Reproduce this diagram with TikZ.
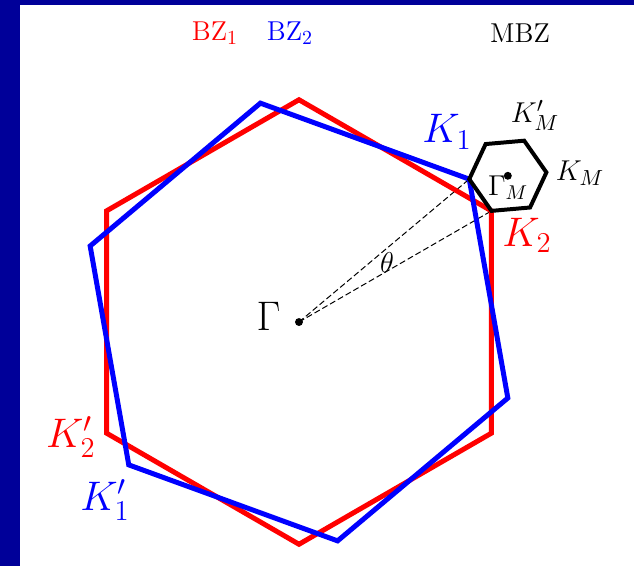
\documentclass[tikz,border=0pt]{standalone}
\usetikzlibrary{calc}
\definecolor{framebg}{RGB}{0,0,153}

\begin{document}
\begin{tikzpicture}[
    bzone1/.style={
        draw=red,
        line width=2.5pt
    },
    bzone2/.style={
        draw=blue,
        line width=2.5pt
    },
    mbzone/.style={
        draw=black,
        line width=2pt
    },
    radial/.style={
        line width=0.5pt,
        dash pattern=on 3pt off 1.5pt
    },
    point/.style={
        fill=black
    },
    biglabel/.style={
        font=\fontsize{22.5}{27}\selectfont
    },
    smalllabel/.style={
        font=\fontsize{15}{18}\selectfont
    },
    zonelabel/.style={
        font=\fontsize{13.7}{16}\selectfont
    }
]

% Radius of both zones and of the mini zone
\def\R{3.92}
\def\Rm{0.683}

% ==================================================
% Frame
% ==================================================

\useasboundingbox (-5.274,-4.304) rectangle (5.909,5.680);
\fill[framebg] (-5.274,-4.304) rectangle (-4.922,5.680);
\fill[framebg] (-5.274,5.592) rectangle (5.909,5.680);

% ==================================================
% Points
% ==================================================

\coordinate (G) at (0,0);
\coordinate (K1) at (40:\R);
\coordinate (K2) at (30:\R);
\coordinate (GM) at ($(K1)!1!60:(K2)$);

% Opening angle between K1 and K2
\draw[radial] (G) -- (K1);
\draw[radial] (G) -- (K2);

% ==================================================
% Brillouin zones
% ==================================================

% First layer
\draw[bzone1]
    (90:\R) -- (30:\R) -- (-30:\R) --
    (-90:\R) -- (-150:\R) -- (150:\R) -- cycle;

% Second layer, rotated
\draw[bzone2]
    (100:\R) -- (40:\R) -- (-20:\R) --
    (-80:\R) -- (-140:\R) -- (160:\R) -- cycle;

% Mini zone
\draw[mbzone]
    ($(GM)+(5:\Rm)$) -- ($(GM)+(65:\Rm)$) -- ($(GM)+(125:\Rm)$) --
    ($(GM)+(185:\Rm)$) -- ($(GM)+(245:\Rm)$) -- ($(GM)+(305:\Rm)$) -- cycle;

\fill[point] (G) circle (0.07);
\fill[point] (GM) circle (0.07);

% ==================================================
% Labels
% ==================================================

\node[zonelabel, text=red] (bz1lbl) at (-1.482,5.098) {BZ$_1$};
\node[zonelabel, text=blue] (bz2lbl) at (-0.159,5.098) {BZ$_2$};
\node[zonelabel] (mbzlbl) at (3.898,5.098) {MBZ};

\node[biglabel, text=blue] (k1lbl) at (2.611,3.352) {$K_1$};
\node[biglabel, text=red] (k2lbl) at (4.022,1.535) {$K_2$};
\node[biglabel, text=blue] (k1plbl) at (-3.422,-3.140) {$K_1'$};
\node[biglabel, text=red] (k2plbl) at (-4.022,-2.035) {$K_2'$};

\node[smalllabel] (kmplbl) at (4.163,3.651) {$K_M'$};
\node[smalllabel] (kmlbl) at (4.957,2.628) {$K_M$};
\node[zonelabel] (gmlbl) at (3.687,2.364) {$\Gamma_M$};

\node[smalllabel] (thlbl) at (1.552,1.041) {$\theta$};
\node[font=\huge] (glbl) at (-0.538,0.106) {$\Gamma$};

\end{tikzpicture}
\end{document}
